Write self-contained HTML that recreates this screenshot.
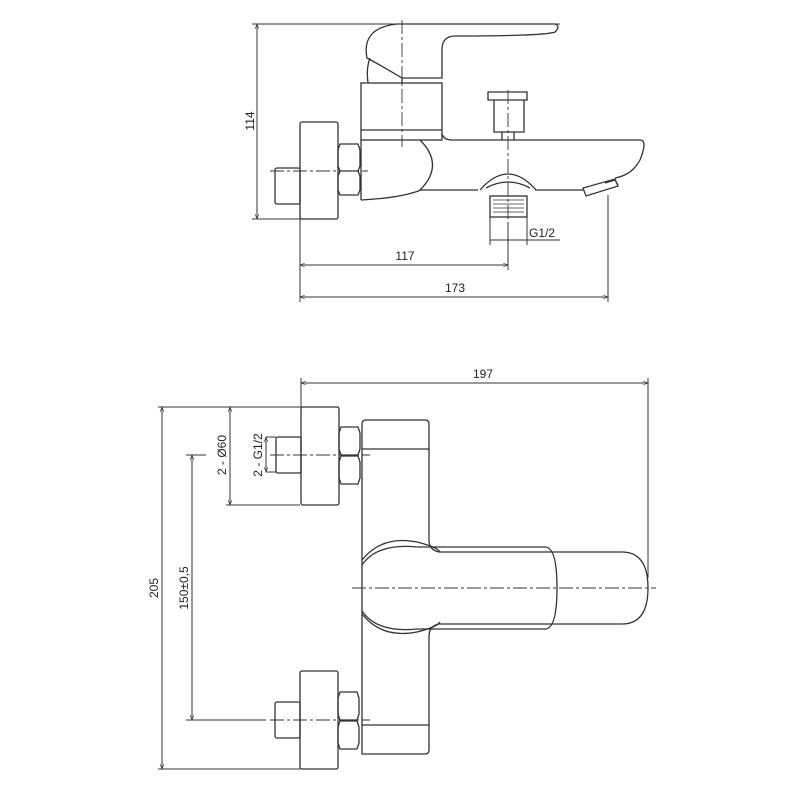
<!DOCTYPE html>
<html><head><style>body{margin:0;background:#fff}svg{display:block}text{font-family:"Liberation Sans",sans-serif;font-size:12px;fill:#222}</style></head><body>
<svg width="800" height="800" viewBox="0 0 800 800" xmlns="http://www.w3.org/2000/svg">
<defs><marker id="a" viewBox="0 0 10 10" refX="10" refY="5" markerWidth="7" markerHeight="5" orient="auto-start-reverse"><path d="M0,1 L10,5 L0,9" fill="none" stroke="#333" stroke-width="1.2"/></marker></defs>
<g fill="none" stroke="#333" stroke-width="1.3">
<!-- TOP VIEW -->
<line x1="252" y1="24" x2="560" y2="24" stroke-width="1"/>
<line x1="252" y1="219" x2="300" y2="219" stroke-width="1"/>
<line x1="257" y1="24" x2="257" y2="219" stroke-width="1" marker-start="url(#a)" marker-end="url(#a)"/>
<rect x="300" y="122" width="38" height="97" rx="2"/>
<rect x="275" y="168" width="25" height="36" rx="2"/>
<path d="M340,144 h18 l2,6 v16 l-2,5 h-18 l-2,-5 v-16z M340,171 h18 l2,5 v14 l-2,5 h-18 l-2,-5 v-14z"/>
<line x1="361" y1="140" x2="361" y2="200"/>
<rect x="361" y="83" width="81" height="57"/>
<line x1="361" y1="130" x2="442" y2="130"/>
<path d="M442,134 q2,6 10,6 H640"/>
<path d="M367,58 q-6,-30 30,-34 H555 q6,2 0,8 q-10,4 -100,4 q-12,0 -13,12 V78 H402 q-20,-12 -35,-20z"/>
<path d="M370,58 q-4,10 -2,25 M402,78 v5"/>
<path d="M361,200 q40,-2 60,-10 H478 M535,190 H583 M420,140 q25,25 0,50"/>
<path d="M480,190 q28,-32 56,0 M486,188 q22,-12 44,0"/>
<rect x="490" y="196" width="37" height="21"/>
<path d="M493,200 h31 M493,204 h31 M493,208 h31 M493,212 h31" stroke-width="0.8"/>
<path d="M488,92 h39 v8 h-39z M494,100 h30 v32 h-30z M502,132 v8 M514,132 v8"/>
<path d="M640,140 q8,0 0,20 q-8,15 -25,18 M583,188 l3,8 l32,-10 l-3,-7z M605,183 l10,-3 l3,5"/>
<line x1="490" y1="217" x2="490" y2="245" stroke-width="1"/>
<line x1="527" y1="217" x2="527" y2="245" stroke-width="1"/>
<line x1="490" y1="240" x2="560" y2="240" stroke-width="1"/>
<line x1="300" y1="219" x2="300" y2="302" stroke-width="1"/>
<line x1="508" y1="222" x2="508" y2="270" stroke-width="1"/>
<line x1="608" y1="195" x2="608" y2="302" stroke-width="1"/>
<line x1="300" y1="265" x2="508" y2="265" stroke-width="1" marker-start="url(#a)" marker-end="url(#a)"/>
<line x1="300" y1="297" x2="608" y2="297" stroke-width="1" marker-start="url(#a)" marker-end="url(#a)"/>
<g stroke-width="0.9" stroke-dasharray="14,3,3,3">
<line x1="402" y1="20" x2="402" y2="147"/>
<line x1="508" y1="90" x2="508" y2="222"/>
<line x1="270" y1="171" x2="368" y2="171"/>
</g>
<!-- BOTTOM VIEW -->
<line x1="301" y1="378" x2="301" y2="407" stroke-width="1"/>
<line x1="648" y1="378" x2="648" y2="578" stroke-width="1"/>
<line x1="301" y1="383" x2="648" y2="383" stroke-width="1" marker-start="url(#a)" marker-end="url(#a)"/>
<line x1="158" y1="407" x2="339" y2="407" stroke-width="1"/>
<line x1="158" y1="769" x2="300" y2="769" stroke-width="1"/>
<line x1="162" y1="407" x2="162" y2="769" stroke-width="1" marker-start="url(#a)" marker-end="url(#a)"/>
<line x1="226" y1="505" x2="300" y2="505" stroke-width="1"/>
<line x1="230" y1="407" x2="230" y2="505" stroke-width="1" marker-start="url(#a)" marker-end="url(#a)"/>
<path d="M266,437 h10 M266,472 h10" stroke-width="1"/>
<line x1="266" y1="437" x2="266" y2="472" stroke-width="1" marker-start="url(#a)" marker-end="url(#a)"/>
<line x1="186" y1="455" x2="206" y2="455" stroke-width="1"/>
<line x1="186" y1="720" x2="266" y2="720" stroke-width="1"/>
<line x1="192" y1="455" x2="192" y2="720" stroke-width="1" marker-start="url(#a)" marker-end="url(#a)"/>
<rect x="301" y="407" width="38" height="98" rx="2"/>
<rect x="276" y="437" width="25" height="36" rx="2"/>
<path d="M341,427 h17 l2,6 v16 l-2,6 h-17 l-2,-6 v-16z M341,456 h17 l2,6 v16 l-2,6 h-17 l-2,-6 v-16z"/>
<rect x="300" y="671" width="38" height="98" rx="2"/>
<rect x="275" y="702" width="25" height="36" rx="2"/>
<path d="M340,692 h17 l2,6 v16 l-2,6 h-17 l-2,-6 v-16z M340,721 h17 l2,6 v16 l-2,6 h-17 l-2,-6 v-16z"/>
<path d="M362,754 V424 q0,-4 4,-4 h59 q4,0 4,4 V540 q0,10 10,12 H622 q26,0 26,36 q0,36 -26,36 H439 q-10,2 -10,12 V750 q0,4 -4,4z"/>
<line x1="362" y1="449" x2="429" y2="449"/>
<line x1="362" y1="725" x2="429" y2="725"/>
<path d="M362,560 q20,-25 55,-18 q20,5 23,10 M362,614 q20,25 55,18 q20,-5 23,-10"/>
<path d="M362,565 q15,-22 55,-18 H545 q12,0 12,41 q0,41 -12,41 H417 q-40,4 -55,-18" />
<g stroke-width="0.9" stroke-dasharray="14,3,3,3">
<line x1="270" y1="455" x2="370" y2="455"/>
<line x1="270" y1="720" x2="370" y2="720"/>
<line x1="352" y1="588" x2="656" y2="588"/>
</g>
</g>
<text x="254" y="121" text-anchor="middle" transform="rotate(-90 254 121)">114</text>
<text x="529" y="237">G1/2</text>
<text x="405" y="260" text-anchor="middle">117</text>
<text x="455" y="292" text-anchor="middle">173</text>
<text x="483" y="378" text-anchor="middle">197</text>
<text x="158" y="588" text-anchor="middle" transform="rotate(-90 158 588)">205</text>
<text x="226" y="455" text-anchor="middle" transform="rotate(-90 226 455)">2 - Ø60</text>
<text x="262" y="455" text-anchor="middle" transform="rotate(-90 262 455)">2 - G1/2</text>
<text x="188" y="588" text-anchor="middle" transform="rotate(-90 188 588)">150±0,5</text>
</svg>
</body></html>
